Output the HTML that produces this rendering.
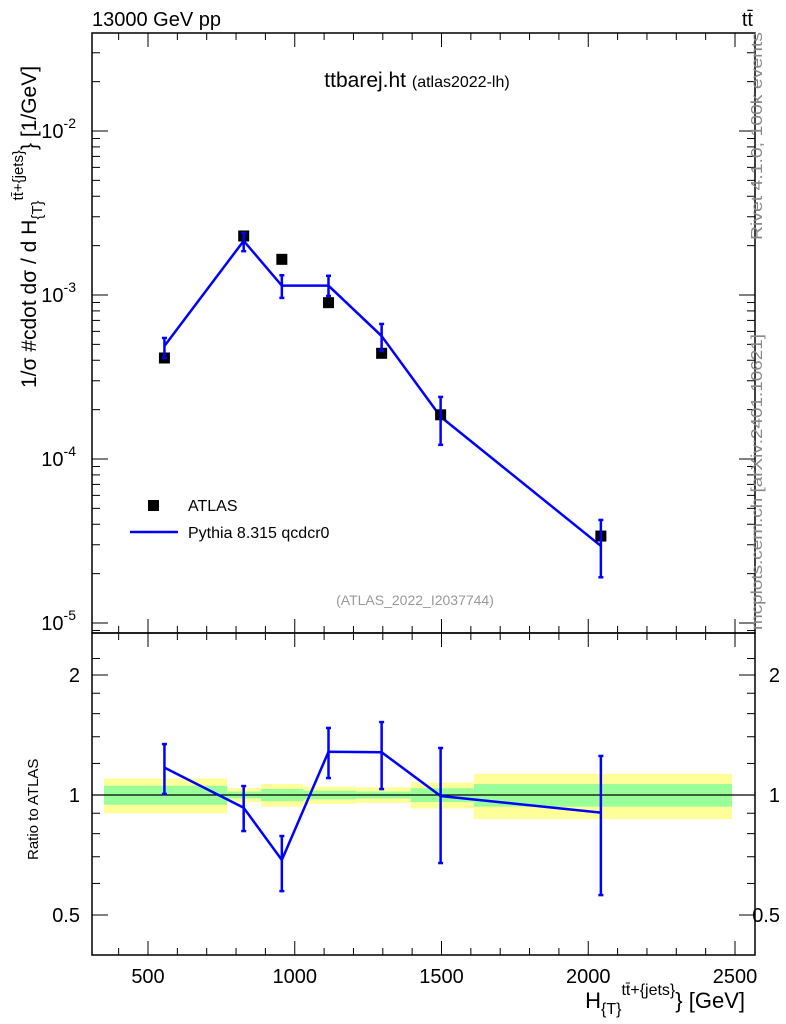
<!DOCTYPE html>
<html><head><meta charset="utf-8"><style>
body{margin:0;background:#fff}
svg{display:block;font-family:"Liberation Sans",sans-serif}
</style></head><body>
<svg id="c" width="786" height="1024" viewBox="0 0 786 1024">
<g id="bands"></g>
<g id="axes"></g>
<g id="series"></g>
<text x="92" y="26" font-size="20">13000 GeV pp</text>
<text x="753" y="26" font-size="20" text-anchor="end">tt̄</text>
<text x="417" y="87" font-size="21" text-anchor="middle">ttbarej.ht <tspan font-size="16">(atlas2022-lh)</tspan></text>
<text x="415" y="605" font-size="14" fill="#999" text-anchor="middle">(ATLAS_2022_I2037744)</text>
<text transform="translate(762,240) rotate(-90)" font-size="16" fill="#888" textLength="208" lengthAdjust="spacingAndGlyphs">Rivet 4.1.0,  100k events</text>
<text transform="translate(762,630) rotate(-90)" font-size="16" fill="#888" textLength="296" lengthAdjust="spacingAndGlyphs">mcplots.cern.ch [arXiv:2401.10621]</text>
<text transform="translate(36,388) rotate(-90)" font-size="21">1/σ #cdot dσ / d H<tspan font-size="15" dy="6">{T}</tspan><tspan font-size="15" dy="-19">tt̄+{jets}</tspan><tspan dy="13">} [1/GeV]</tspan></text>
<text transform="translate(38,860) rotate(-90)" font-size="15">Ratio to ATLAS</text>
<text x="745" y="1008" font-size="22" text-anchor="end">H<tspan font-size="16" dy="6">{T}</tspan><tspan font-size="16" dy="-19">tt̄+{jets}</tspan><tspan dy="13">} [GeV]</tspan></text>
<rect x="148" y="500" width="11" height="11" fill="#000"/>
<text x="188" y="511" font-size="16">ATLAS</text>
<line x1="130" y1="532" x2="178" y2="532" stroke="#0000ff" stroke-width="2.5"/>
<text x="188" y="538" font-size="16">Pythia 8.315 qcdcr0</text>
</svg>
<script>
const binEdges=[350,770,885,1030,1210,1395,1610,2490];
const xPoints=[556,826,956,1115,1296,1497,2043];
const dataVals=[4.13e-4,2.29e-3,1.65e-3,8.98e-4,4.41e-4,1.86e-4,3.39e-5];
const mcVals=[4.89e-4,2.14e-3,1.14e-3,1.14e-3,5.62e-4,1.81e-4,2.95e-5];
const mcHi=[5.47e-4,2.39e-3,1.32e-3,1.31e-3,6.66e-4,2.39e-4,4.25e-5];
const mcLo=[4.13e-4,1.85e-3,9.6e-4,9.86e-4,4.56e-4,1.22e-4,1.9e-5];
const ratioVals=[1.171,0.929,0.687,1.284,1.280,0.994,0.903];
const ratioHi=[1.342,1.053,0.789,1.473,1.524,1.312,1.253];
const ratioLo=[1.006,0.812,0.574,1.103,1.035,0.675,0.561];
const bandYellow=[0.10,0.04,0.065,0.05,0.045,0.075,0.13];
const bandGreen=[0.055,0.02,0.035,0.025,0.02,0.04,0.065];
const xTicks=[500,1000,1500,2000,2500];
const yExps=[-5,-4,-3,-2];
const rTicks=[0.5,1,2];

const NS="http://www.w3.org/2000/svg";
const L=92,R=755,T=33,M=633,B=955;
const X=v=>1.25+v*0.2935;
const Y=v=>295-164*(Math.log10(v)+3);
const RY=v=>795-120*Math.log2(v);
function mk(p,tag,at){const e=document.createElementNS(NS,tag);for(const k in at)e.setAttribute(k,at[k]);p.appendChild(e);return e;}
const bands=document.getElementById('bands'),axes=document.getElementById('axes'),ser=document.getElementById('series');

for(let i=0;i<bandYellow.length;i++){
  const x1=X(binEdges[i]),x2=X(binEdges[i+1]);
  let r=mk(bands,'rect',{x:x1,y:RY(1+bandYellow[i]),width:x2-x1,height:RY(1-bandYellow[i])-RY(1+bandYellow[i]),fill:'#ffff99'});
  
  
  r=mk(bands,'rect',{x:x1,y:RY(1+bandGreen[i]),width:x2-x1,height:RY(1-bandGreen[i])-RY(1+bandGreen[i]),fill:'#99ff99'});
  
  
}
let ln=mk(axes,'line',{x1:L,x2:R,y1:RY(1),y2:RY(1),stroke:'#000','stroke-width':1.2});



mk(axes,'rect',{x:L,y:T,width:R-L,height:M-T,fill:'none',stroke:'#000','stroke-width':1.5});
mk(axes,'rect',{x:L,y:M,width:R-L,height:B-M,fill:'none',stroke:'#000','stroke-width':1.5});
for(let v=400;v<=2500;v+=100){
  const x=X(v),maj=v%500==0,h=maj?14:7;
  for(const [a,d] of [[T,1],[M,-1],[M,1],[B,-1]]) mk(axes,'line',{x1:x,x2:x,y1:a,y2:a+d*h,stroke:'#000','stroke-width':1});
}
xTicks.forEach(v=>{const t=mk(axes,'text',{x:X(v),y:983,'font-size':20,'text-anchor':'middle'});t.textContent=v;

});
for(let e=-6;e<=-1;e++)for(let m=1;m<10;m++){
  const v=m*Math.pow(10,e),y=Y(v);if(y<T||y>M)continue;const h=m==1?16:8;
  mk(axes,'line',{x1:L,x2:L+h,y1:y,y2:y,stroke:'#000'});mk(axes,'line',{x1:R,x2:R-h,y1:y,y2:y,stroke:'#000'});
}
yExps.forEach(e=>{const t=mk(axes,'text',{x:76,y:Y(Math.pow(10,e))+7,'font-size':20,'text-anchor':'end'});
t.innerHTML='10<tspan font-size="14" dy="-10">'+e+'</tspan>';

});
[0.5,0.6,0.7,0.8,0.9,1,1.2,1.4,1.6,1.8,2,2.2].forEach(v=>{const y=RY(v);if(y<M||y>B)return;const h=rTicks.includes(v)?16:8;
  mk(axes,'line',{x1:L,x2:L+h,y1:y,y2:y,stroke:'#000'});mk(axes,'line',{x1:R,x2:R-h,y1:y,y2:y,stroke:'#000'});});
rTicks.forEach(v=>{for(const [x,a] of [[80,'end'],[780,'end']]){const t=mk(axes,'text',{x:x,y:RY(v)+7,'font-size':20,'text-anchor':a});t.textContent=v;

}});

const blue='#0000ff';
let pts=xPoints.map((x,i)=>X(x)+','+Y(mcVals[i])).join(' ');
let pl=mk(ser,'polyline',{points:pts,fill:'none',stroke:blue,'stroke-width':2.5});


pts=xPoints.map((x,i)=>X(x)+','+RY(ratioVals[i])).join(' ');
pl=mk(ser,'polyline',{points:pts,fill:'none',stroke:blue,'stroke-width':2.5});


xPoints.forEach((xv,i)=>{
  const x=X(xv);
  const m=mk(ser,'rect',{x:x-5.5,y:Y(dataVals[i])-5.5,width:11,height:11,fill:'#000'});
  
  
  for(const [hi,lo,f] of [[mcHi[i],mcLo[i],Y],[ratioHi[i],ratioLo[i],RY]]){
    const g=mk(ser,'g',{stroke:blue,'stroke-width':2.5});
    
    
    mk(g,'line',{x1:x,x2:x,y1:f(hi),y2:f(lo)});
    mk(g,'line',{x1:x-2.5,x2:x+2.5,y1:f(hi),y2:f(hi)});
    mk(g,'line',{x1:x-2.5,x2:x+2.5,y1:f(lo),y2:f(lo)});
  }
});
</script>
</body></html>
